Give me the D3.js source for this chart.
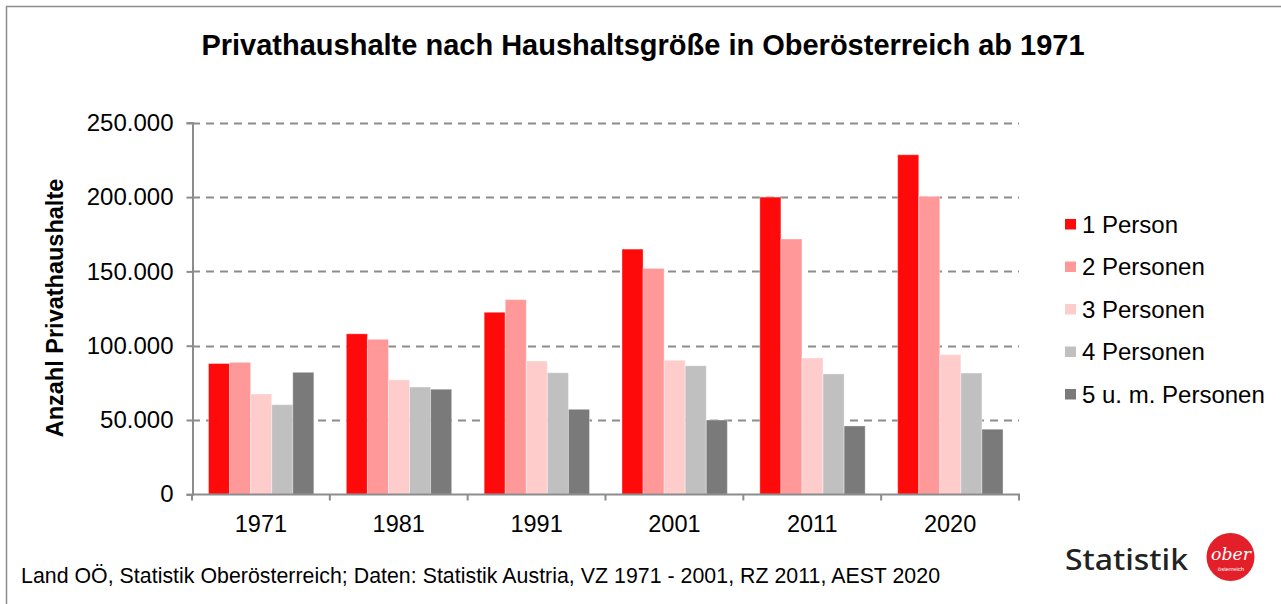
<!DOCTYPE html>
<html><head><meta charset="utf-8">
<script src="https://cdn.jsdelivr.net/npm/d3@7"></script>
<style>body{margin:0;background:#fff}svg{display:block}</style>
</head><body>
<script>
const years = ["1971","1981","1991","2001","2011","2020"];
const seriesNames = ["1 Person","2 Personen","3 Personen","4 Personen","5 u. m. Personen"];
const s1 = [88000,108000,122500,165000,200000,228500];
const s2 = [88800,104300,131000,152000,171800,200500];
const s3 = [67500,77000,89700,90200,91700,94000];
const s4 = [60300,72200,81800,86500,81000,81600];
const s5 = [82100,70700,57200,50000,46000,43800];
const colors = ["#ff0a0a","#ff9999","#ffcccc","#c0c0c0","#7a7a7a"];
const yTicks = [0,50000,100000,150000,200000,250000];
const allSeries = [s1,s2,s3,s4,s5];

const W=1281,H=604;
const svg=d3.select("body").append("svg").attr("width",W).attr("height",H);
svg.append("rect").attr("x",6.5).attr("y",6.5).attr("width",1300).attr("height",700)
  .attr("fill","#fff").attr("stroke","#8c8c8c").attr("stroke-width",1.5);

const x0=d3.scaleBand().domain(years).range([192,1019]).paddingInner(0).paddingOuter(0);
const x1=d3.scaleBand().domain(d3.range(5)).range([16.5, x0.bandwidth()-16]).padding(0);
const y=d3.scaleLinear().domain([0,250000]).range([494.3,122.8]);
const font="'Liberation Sans', Arial, sans-serif";

// grid
svg.append("g").selectAll("line").data(yTicks.slice(1)).join("line")
  .attr("x1",192).attr("x2",1019).attr("y1",d=>Math.round(y(d))+0.5).attr("y2",d=>Math.round(y(d))+0.5)
  .attr("stroke","#8c8c8c").attr("stroke-width",2).attr("stroke-dasharray","8,6");

// bars
const g=svg.append("g");
years.forEach((yr,i)=>{
  allSeries.forEach((s,j)=>{
    g.append("rect").attr("x",x0(yr)+x1(j)).attr("width",x1.bandwidth())
     .attr("y",y(s[i])).attr("height",y(0)-y(s[i])).attr("fill",colors[j])
     .attr("stroke","#fff").attr("stroke-opacity",0.35).attr("stroke-width",1);
  });
});

// y axis
const ya=d3.axisLeft(y).tickValues(yTicks).tickSize(6).tickPadding(8)
  .tickFormat(d=>d===0?"0":d3.format(",")(d).replace(/,/g,"."));
const yg=svg.append("g").attr("transform","translate(192.5,0)").call(ya);
yg.select(".domain").attr("stroke","#8c8c8c").attr("stroke-width",2);
yg.selectAll(".tick line").attr("stroke","#8c8c8c").attr("stroke-width",2);
yg.selectAll("text").attr("font-family",font).attr("font-size",24).attr("fill","#000").attr("dx",-5);

// x axis
const xg=svg.append("g").attr("transform","translate(0,494.5)");
xg.append("line").attr("x1",192).attr("x2",1020).attr("stroke","#8c8c8c").attr("stroke-width",2);
xg.selectAll(".tk").data(years.concat(["end"])).join("line")
  .attr("x1",(d,i)=>192+i*x0.bandwidth()).attr("x2",(d,i)=>192+i*x0.bandwidth())
  .attr("y1",0).attr("y2",6).attr("stroke","#8c8c8c").attr("stroke-width",2);
xg.selectAll("text").data(years).join("text")
  .attr("x",d=>x0(d)+x0.bandwidth()/2).attr("y",37).attr("text-anchor","middle")
  .attr("font-family",font).attr("font-size",23.5).attr("fill","#000").text(d=>d);

// title
svg.append("text").attr("x",643).attr("y",55).attr("text-anchor","middle")
  .attr("font-family",font).attr("font-weight","bold").attr("font-size",29).attr("fill","#000")
  .text("Privathaushalte nach Haushaltsgröße in Oberösterreich ab 1971");

// y title
svg.append("text").attr("transform","translate(63,308) rotate(-90)").attr("text-anchor","middle")
  .attr("font-family",font).attr("font-weight","bold").attr("font-size",23.5).attr("fill","#000")
  .text("Anzahl Privathaushalte");

// legend
const lg=svg.append("g");
seriesNames.forEach((n,i)=>{
  const cy=224+i*42.5;
  lg.append("rect").attr("x",1065).attr("y",cy-5).attr("width",11).attr("height",10.5).attr("fill",colors[i]);
  lg.append("text").attr("x",1082).attr("y",cy+8.5).attr("font-family",font).attr("font-size",24)
    .attr("fill","#000").text(n);
});

// footer
svg.append("text").attr("x",21).attr("y",583).attr("font-family",font).attr("font-size",21.3).attr("fill","#000")
  .attr("textLength",919).attr("lengthAdjust","spacing")
  .text("Land OÖ, Statistik Oberösterreich; Daten: Statistik Austria, VZ 1971 - 2001, RZ 2011, AEST 2020");

// logo
svg.append("text").attr("x",1065).attr("y",570).attr("font-family","'Noto Sans', sans-serif")
  .attr("font-weight","500").attr("font-size",28).attr("fill","#222")
  .attr("textLength",123).attr("lengthAdjust","spacingAndGlyphs").text("Statistik");
svg.append("circle").attr("cx",1230.5).attr("cy",557).attr("r",24).attr("fill","#e3202a");
svg.append("text").attr("x",1231).attr("y",560).attr("text-anchor","middle")
  .attr("font-family","'DejaVu Serif', serif").attr("font-style","italic").attr("font-size",16)
  .attr("textLength",40).attr("lengthAdjust","spacingAndGlyphs").attr("fill","#fff").text("ober");
svg.append("text").attr("x",1231).attr("y",571).attr("text-anchor","middle")
  .attr("font-family",font).attr("font-size",6).attr("fill","#fff").text("österreich");
</script>
</body></html>
